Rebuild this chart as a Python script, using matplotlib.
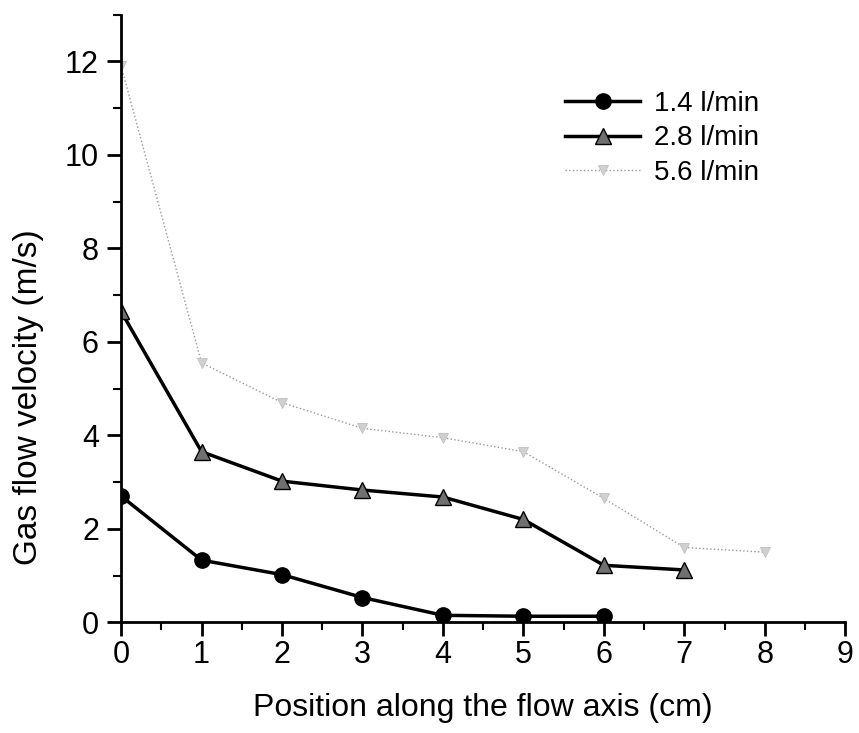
import matplotlib.pyplot as plt
from matplotlib.ticker import MultipleLocator

plt.rcParams['font.family'] = ['Liberation Sans', 'DejaVu Sans']

pos_14 = [0, 1, 2, 3, 4, 5, 6]
vel_14 = [2.7, 1.33, 1.02, 0.53, 0.15, 0.13, 0.13]

pos_28 = [0, 1, 2, 3, 4, 5, 6, 7]
vel_28 = [6.65, 3.65, 3.02, 2.83, 2.68, 2.2, 1.22, 1.12]

pos_56 = [0, 1, 2, 3, 4, 5, 6, 7, 8]
vel_56 = [11.9, 5.55, 4.7, 4.15, 3.95, 3.65, 2.65, 1.6, 1.5]

labels = ['1.4 l/min', '2.8 l/min', '5.6 l/min']

fig = plt.figure(figsize=(8.59, 7.33), dpi=100)
ax = fig.add_axes([0.141, 0.151, 0.843, 0.829])

ax.plot(pos_14, vel_14, color='black', lw=2.5, marker='o', ms=11,
        mfc='black', mec='black', label=labels[0])
ax.plot(pos_28, vel_28, color='black', lw=2.5, marker='^', ms=12,
        mfc='#707070', mec='black', label=labels[1])
ax.plot(pos_56, vel_56, color='#9a9a9a', lw=1.0, ls=':', marker='v', ms=7,
        mfc='#d0d0d0', mec='#c0c0c0', mew=0.6, label=labels[2])

ax.set_xlim(0, 9)
ax.set_ylim(0, 13)
ax.xaxis.set_major_locator(MultipleLocator(1))
ax.xaxis.set_minor_locator(MultipleLocator(0.5))
ax.yaxis.set_major_locator(MultipleLocator(2))
ax.yaxis.set_minor_locator(MultipleLocator(1))

for side in ['top', 'right']:
    ax.spines[side].set_visible(False)
for side in ['left', 'bottom']:
    ax.spines[side].set_linewidth(2)

ax.tick_params(which='major', direction='out', length=10, width=2,
               labelsize=22)
ax.tick_params(axis='x', which='major', pad=3)
ax.tick_params(axis='y', which='major', pad=6)
ax.tick_params(which='minor', direction='out', length=6, width=1.5)

ax.set_xlabel('Position along the flow axis (cm)', fontsize=23, labelpad=16)
ax.set_ylabel('Gas flow velocity (m/s)', fontsize=24)
ax.yaxis.set_label_coords(-0.107, 0.37)

ax.legend(loc='upper left', bbox_to_anchor=(0.613, 0.875), frameon=False,
          fontsize=20, handlelength=2.7, handletextpad=0.5, labelspacing=0.31,
          borderpad=0, borderaxespad=0)

plt.savefig('out.png', dpi=100)
